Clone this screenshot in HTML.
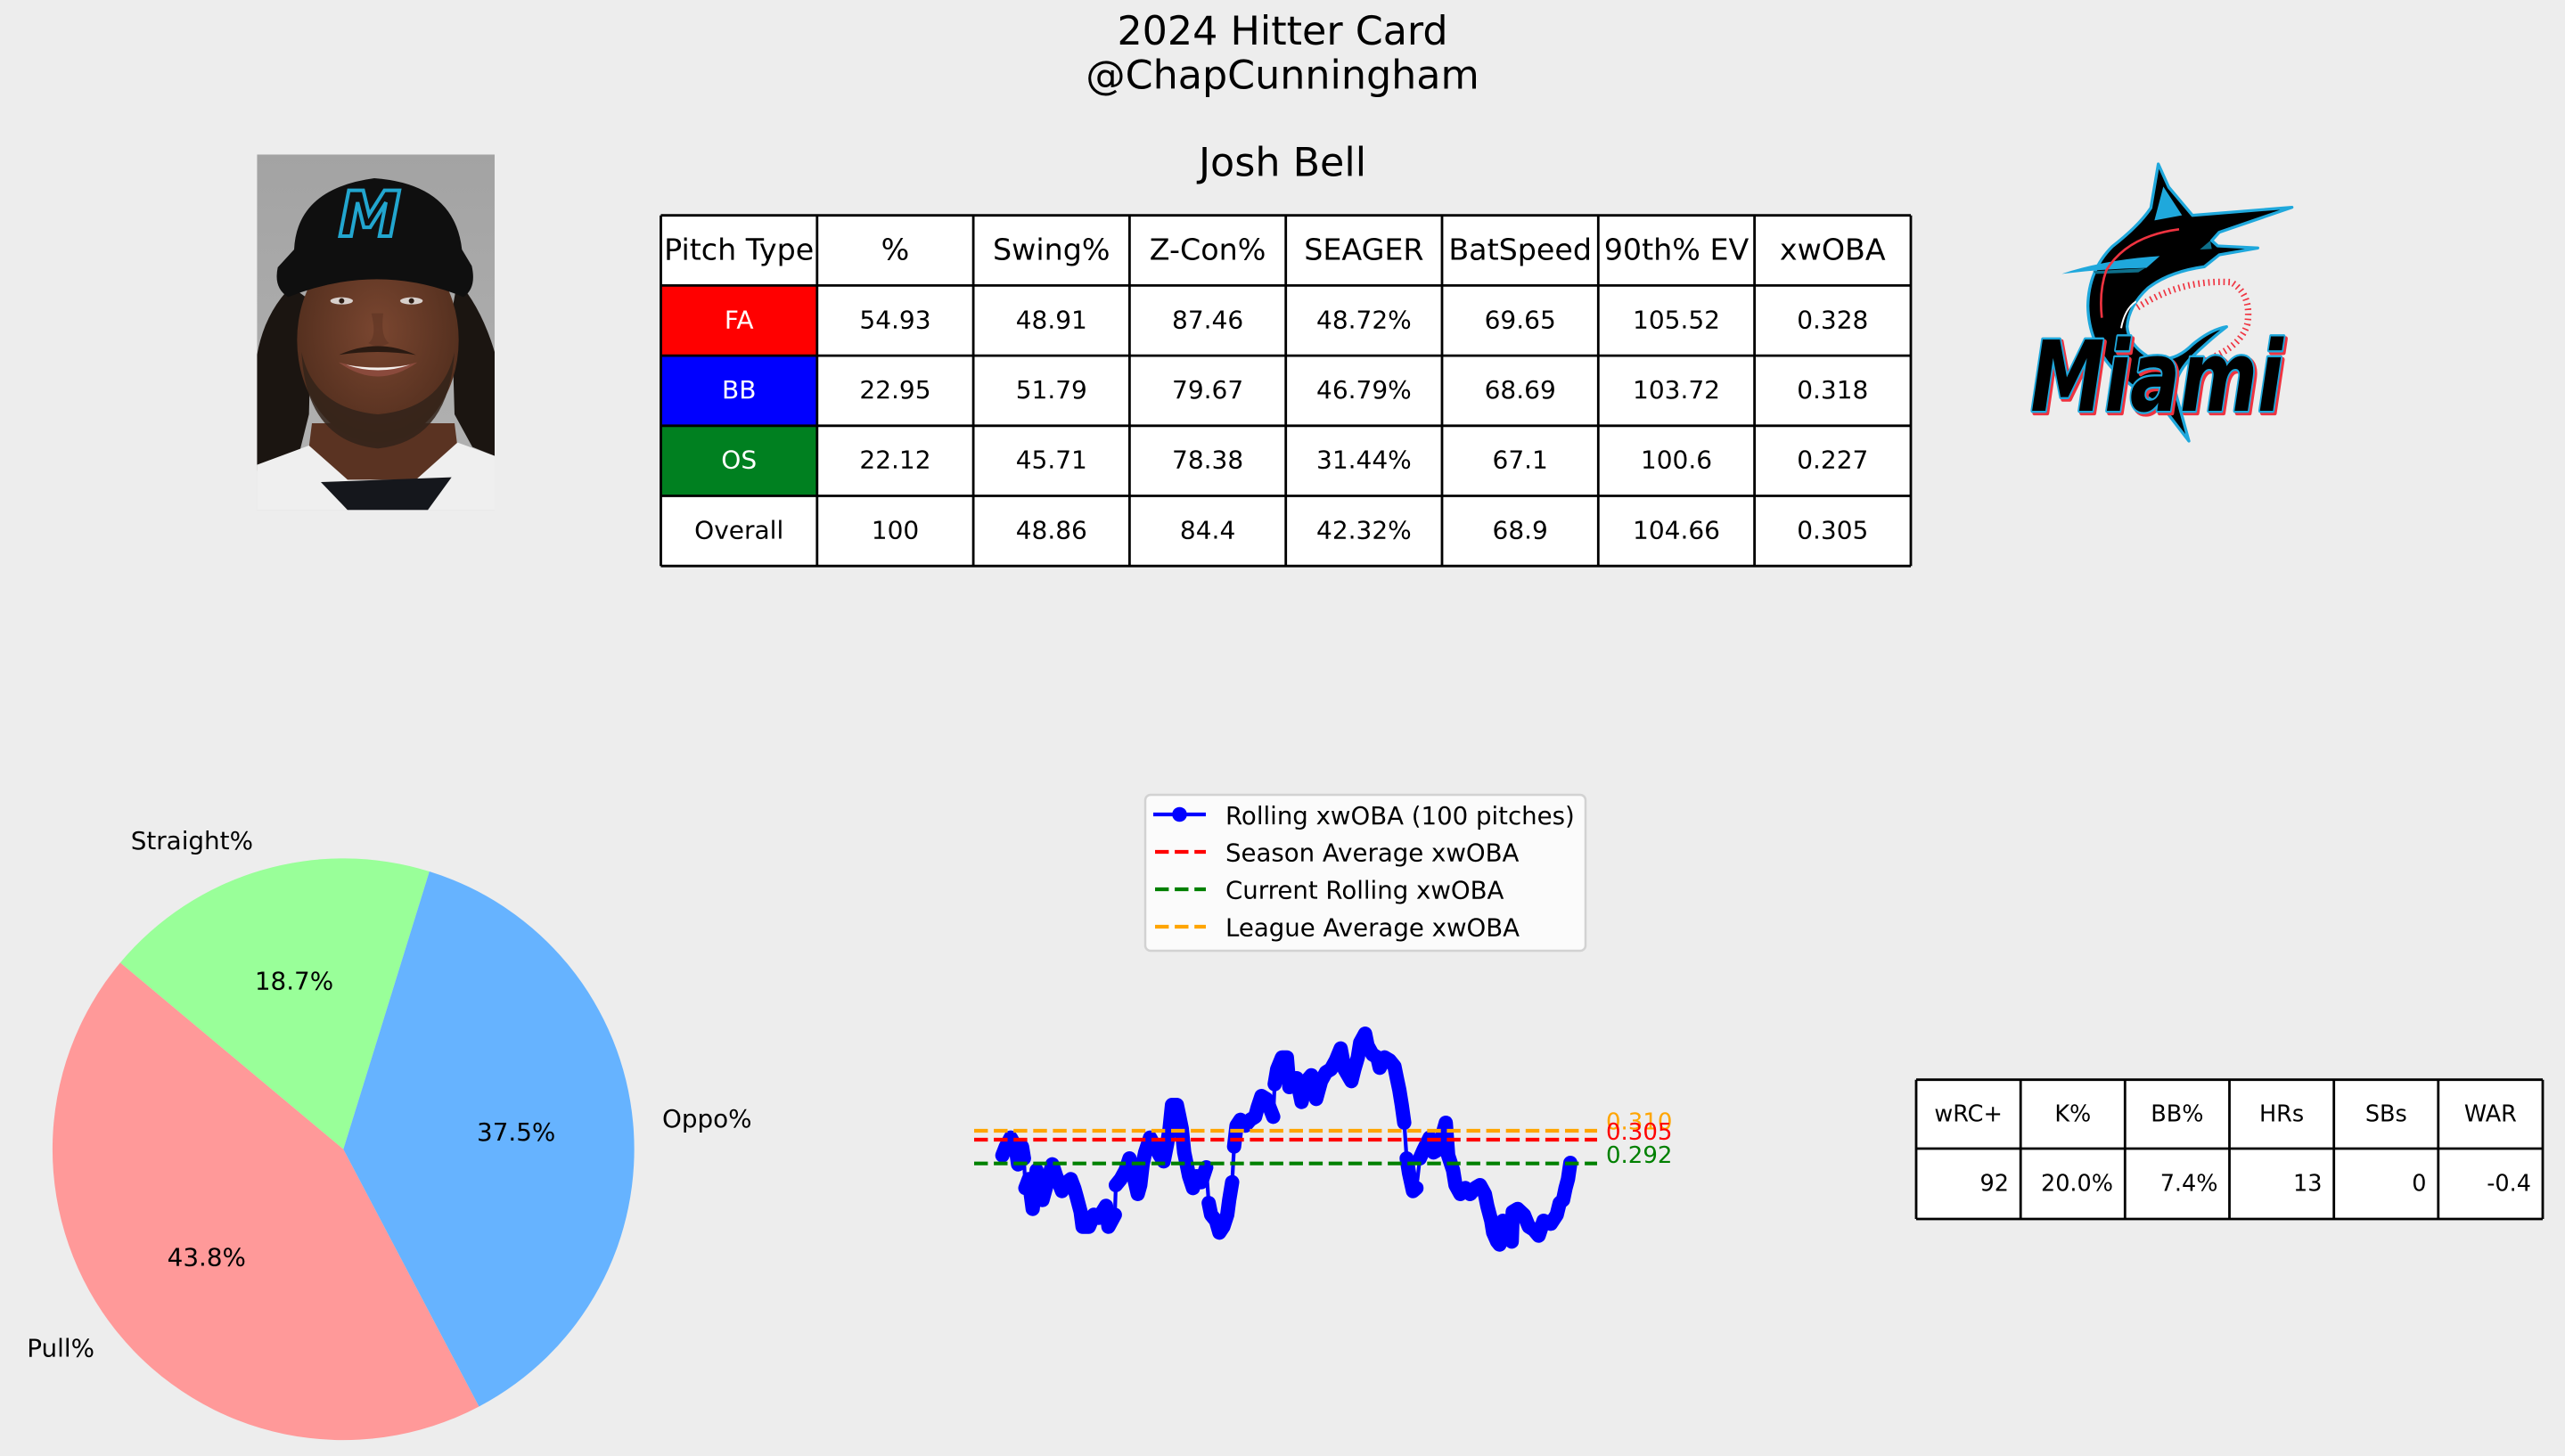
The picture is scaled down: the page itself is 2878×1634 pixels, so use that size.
<!DOCTYPE html>
<html>
<head>
<meta charset="utf-8">
<style>
html,body{margin:0;padding:0;background:#ededed;}
svg{display:block;}
text{font-family:"DejaVu Sans","Liberation Sans",sans-serif;}
</style>
</head>
<body>
<svg width="2878" height="1634" viewBox="0 0 2878 1634" xmlns="http://www.w3.org/2000/svg">
<rect x="0" y="0" width="2878" height="1634" fill="#ededed"/>

<!-- Titles -->
<text x="1439" y="50" font-size="44.4" text-anchor="middle" fill="#000">2024 Hitter Card</text>
<text x="1439" y="99.5" font-size="44.4" text-anchor="middle" fill="#000">@ChapCunningham</text>
<text x="1439" y="197.7" font-size="44.4" text-anchor="middle" fill="#000">Josh Bell</text>

<!-- Player photo -->
<defs>
<clipPath id="photoclip"><rect x="25" y="25" width="800" height="1197"/></clipPath>
<linearGradient id="bg" x1="0" y1="0" x2="0" y2="1">
<stop offset="0" stop-color="#a3a3a3"/><stop offset="1" stop-color="#b3b3b3"/>
</linearGradient>
<radialGradient id="face" cx="0.5" cy="0.45" r="0.6">
<stop offset="0" stop-color="#7a4630"/><stop offset="1" stop-color="#4e2c1c"/>
</radialGradient>
</defs>
<g transform="translate(280,165) scale(0.33333)">
<g clip-path="url(#photoclip)">
<rect x="25" y="25" width="800" height="1197" fill="url(#bg)"/>
<!-- dreads -->
<path d="M25,700 Q50,560 140,470 L210,520 L200,900 L160,1060 L90,1090 L25,1090 Z" fill="#1b1511"/>
<path d="M700,450 Q780,540 825,690 L825,1040 L750,1010 L690,900 L680,560 Z" fill="#1b1511"/>
<!-- neck -->
<path d="M210,930 L690,930 L700,1010 L640,1130 L260,1135 L200,1010 Z" fill="#5a3322"/>
<!-- shirt -->
<path d="M25,1070 L200,1005 L330,1120 L560,1120 L700,995 L825,1040 L825,1222 L25,1222 Z" fill="#efefef"/>
<path d="M240,1128 L680,1112 L600,1222 L330,1222 Z" fill="#15171c"/>
<!-- face -->
<ellipse cx="432" cy="650" rx="272" ry="345" fill="url(#face)"/>
<!-- beard -->
<path d="M175,690 Q190,990 432,1015 Q670,990 690,690 Q650,880 432,900 Q215,880 175,690 Z" fill="#33231a" opacity="0.85"/>
<path d="M300,700 Q432,640 560,700 Q432,680 300,700 Z" fill="#2a1a12"/>
<!-- mouth -->
<path d="M300,725 Q432,820 565,725 Q432,760 300,725 Z" fill="#8a4a3c"/>
<path d="M325,733 Q432,770 540,733 Q432,752 325,733 Z" fill="#f4f0ec"/>
<!-- eyes -->
<ellipse cx="310" cy="518" rx="38" ry="12" fill="#d8d0cc"/>
<ellipse cx="545" cy="518" rx="38" ry="12" fill="#d8d0cc"/>
<circle cx="310" cy="518" r="9" fill="#2a1a12"/>
<circle cx="545" cy="518" r="9" fill="#2a1a12"/>
<path d="M410,560 Q430,640 400,660 Q432,680 470,660 Q440,640 450,560 Z" fill="#5e3423" opacity="0.6"/>
<!-- cap -->
<path d="M150,345 Q160,140 420,105 Q690,125 715,345 L748,400 Q765,475 720,505 Q432,385 130,505 Q80,475 95,405 Z" fill="#0f0f0f"/>
<text x="300" y="300" font-size="210" font-weight="bold" font-style="italic" fill="none" stroke="#22a6cf" stroke-width="12" font-family="Liberation Serif, serif">M</text>
</g>
</g>

<!-- Main table -->
<rect x="741.5" y="241.7" width="1402.5" height="393.5" fill="#ffffff"/>
<rect x="741.5" y="320.4" width="175.3" height="78.7" fill="#ff0000"/>
<rect x="741.5" y="399.1" width="175.3" height="78.7" fill="#0000ff"/>
<rect x="741.5" y="477.8" width="175.3" height="78.7" fill="#008020"/>
<g stroke="#000" stroke-width="2.8">
<line x1="741.5" y1="241.7" x2="2144" y2="241.7"/>
<line x1="741.5" y1="320.4" x2="2144" y2="320.4"/>
<line x1="741.5" y1="399.1" x2="2144" y2="399.1"/>
<line x1="741.5" y1="477.8" x2="2144" y2="477.8"/>
<line x1="741.5" y1="556.5" x2="2144" y2="556.5"/>
<line x1="741.5" y1="635.2" x2="2144" y2="635.2"/>
<line x1="741.5" y1="241.7" x2="741.5" y2="635.2"/>
<line x1="916.8" y1="241.7" x2="916.8" y2="635.2"/>
<line x1="1092.1" y1="241.7" x2="1092.1" y2="635.2"/>
<line x1="1267.4" y1="241.7" x2="1267.4" y2="635.2"/>
<line x1="1442.7" y1="241.7" x2="1442.7" y2="635.2"/>
<line x1="1618" y1="241.7" x2="1618" y2="635.2"/>
<line x1="1793.3" y1="241.7" x2="1793.3" y2="635.2"/>
<line x1="1968.6" y1="241.7" x2="1968.6" y2="635.2"/>
<line x1="2144" y1="241.7" x2="2144" y2="635.2"/>
</g>
<g font-size="33.3" text-anchor="middle" fill="#000">
<text x="829.2" y="291.7">Pitch Type</text>
<text x="1004.5" y="291.7">%</text>
<text x="1179.8" y="291.7">Swing%</text>
<text x="1355.1" y="291.7">Z-Con%</text>
<text x="1530.4" y="291.7">SEAGER</text>
<text x="1705.7" y="291.7">BatSpeed</text>
<text x="1881" y="291.7">90th% EV</text>
<text x="2056.3" y="291.7">xwOBA</text>
</g>
<g font-size="28" text-anchor="middle" fill="#000">
<text x="829.2" y="368.3" fill="#fff">FA</text>
<text x="1004.5" y="368.3">54.93</text>
<text x="1179.8" y="368.3">48.91</text>
<text x="1355.1" y="368.3">87.46</text>
<text x="1530.4" y="368.3">48.72%</text>
<text x="1705.7" y="368.3">69.65</text>
<text x="1881" y="368.3">105.52</text>
<text x="2056.3" y="368.3">0.328</text>

<text x="829.2" y="447" fill="#fff">BB</text>
<text x="1004.5" y="447">22.95</text>
<text x="1179.8" y="447">51.79</text>
<text x="1355.1" y="447">79.67</text>
<text x="1530.4" y="447">46.79%</text>
<text x="1705.7" y="447">68.69</text>
<text x="1881" y="447">103.72</text>
<text x="2056.3" y="447">0.318</text>

<text x="829.2" y="525.7" fill="#fff">OS</text>
<text x="1004.5" y="525.7">22.12</text>
<text x="1179.8" y="525.7">45.71</text>
<text x="1355.1" y="525.7">78.38</text>
<text x="1530.4" y="525.7">31.44%</text>
<text x="1705.7" y="525.7">67.1</text>
<text x="1881" y="525.7">100.6</text>
<text x="2056.3" y="525.7">0.227</text>

<text x="829.2" y="604.4">Overall</text>
<text x="1004.5" y="604.4">100</text>
<text x="1179.8" y="604.4">48.86</text>
<text x="1355.1" y="604.4">84.4</text>
<text x="1530.4" y="604.4">42.32%</text>
<text x="1705.7" y="604.4">68.9</text>
<text x="1881" y="604.4">104.66</text>
<text x="2056.3" y="604.4">0.305</text>
</g>

<!-- Marlins logo -->
<g transform="translate(2260,170) scale(0.33333)">
<path d="M485,42 L520,120 L600,215 L935,188 L690,272 L665,300 L685,318 L820,325 L690,348 L640,388 Q520,405 450,460 Q385,520 380,590 Q385,650 450,690 Q530,720 600,650 Q660,600 715,590 Q650,640 590,700 Q545,750 540,800 L588,975 Q530,900 500,860 Q400,800 330,730 Q250,640 248,520 Q250,400 330,320 Q420,250 460,190 Z" fill="#000" stroke="#1fa8dc" stroke-width="10" stroke-linejoin="round"/>
<path d="M502,118 L565,215 L472,232 Z" fill="#1fa8dc"/>
<path d="M160,412 Q300,365 490,352 L445,392 Q300,395 160,412 Z" fill="#1fa8dc"/>
<path d="M265,403 L440,393 L418,407 L275,412 Z" fill="#0e6f8a"/>
<path d="M660,300 L625,330 L665,328 Z" fill="#0e6f8a"/>
<path d="M555,262 Q380,285 310,400 Q285,470 295,560" fill="none" stroke="#ef3340" stroke-width="8"/>
<path d="M360,595 Q372,530 410,505" fill="none" stroke="#fff" stroke-width="6"/>
<path d="M415,525 Q560,430 730,440 Q800,480 785,580 Q765,650 670,692" fill="none" stroke="#ef3340" stroke-width="22" stroke-dasharray="5 12"/>
<text x="62" y="880" font-size="330" font-weight="bold" font-style="italic" font-family="Liberation Serif, serif" textLength="850" lengthAdjust="spacingAndGlyphs" fill="#ef3340" stroke="#ef3340" stroke-width="16" stroke-linejoin="round">Miami</text>
<text x="55" y="873" font-size="330" font-weight="bold" font-style="italic" font-family="Liberation Serif, serif" textLength="850" lengthAdjust="spacingAndGlyphs" fill="#000" stroke="#1fa8dc" stroke-width="14" stroke-linejoin="round" paint-order="stroke">Miami</text>
</g>

<!-- Pie chart -->
<path d="M385.3,1289.8 L481.8,978.0 A326.4,326.4 0 0 0 134.9,1080.4 Z" fill="#99ff99"/>
<path d="M385.3,1289.8 L134.9,1080.4 A326.4,326.4 0 0 0 537.5,1578.5 Z" fill="#ff9999"/>
<path d="M385.3,1289.8 L537.5,1578.5 A326.4,326.4 0 0 0 481.8,978.0 Z" fill="#66b3ff"/>
<g font-size="27.8" fill="#000">
<text x="284" y="952.9" text-anchor="end">Straight%</text>
<text x="743" y="1265.2" text-anchor="start">Oppo%</text>
<text x="106" y="1522.6" text-anchor="end">Pull%</text>
<text x="330" y="1110.7" text-anchor="middle">18.7%</text>
<text x="579.2" y="1280.1" text-anchor="middle">37.5%</text>
<text x="231.8" y="1420.6" text-anchor="middle">43.8%</text>
</g>

<!-- Legend -->
<rect x="1285" y="892" width="494" height="175" rx="6" ry="6" fill="#fbfbfb" stroke="#d2d2d2" stroke-width="2.5"/>
<line x1="1294" y1="914" x2="1353" y2="914" stroke="#0000ff" stroke-width="4.2"/>
<circle cx="1323.5" cy="914" r="8.3" fill="#0000ff"/>
<line x1="1296" y1="956" x2="1353" y2="956" stroke="#ff0000" stroke-width="4.2" stroke-dasharray="15.4 6.7"/>
<line x1="1296" y1="998" x2="1353" y2="998" stroke="#008000" stroke-width="4.2" stroke-dasharray="15.4 6.7"/>
<line x1="1296" y1="1040" x2="1353" y2="1040" stroke="#ffa500" stroke-width="4.2" stroke-dasharray="15.4 6.7"/>
<g font-size="27.6" fill="#000">
<text x="1375" y="925">Rolling xwOBA (100 pitches)</text>
<text x="1375" y="966.7">Season Average xwOBA</text>
<text x="1375" y="1008.3">Current Rolling xwOBA</text>
<text x="1375" y="1050.3">League Average xwOBA</text>
</g>

<!-- Rolling series -->
<g fill="none" stroke="#0000ff" stroke-linejoin="round" stroke-linecap="round">
<polyline stroke-width="4.2" points="1124.7,1296.7 1128.6,1286.7 1134.0,1276.7 1139.5,1286.7 1142.3,1306.7 1146.7,1286.7 1148.9,1300 1150.5,1333.3 1154.3,1323.3 1158.7,1356.7 1163.1,1313.3 1167.0,1333.3 1169.7,1346.7 1175.2,1326.7 1180.7,1306.7 1185.1,1320 1191.6,1336.7 1197.1,1326.7 1201.5,1323.3 1205.3,1333.3 1208.1,1343.3 1212.5,1360 1214.7,1376.7 1221.8,1376.7 1227.3,1363.3 1232.8,1366.7 1241.0,1353.3 1243.7,1376.7 1250.9,1363.3 1252.0,1330 1257.4,1323.3 1262.9,1313.3 1267.3,1300 1271.2,1316.7 1276.6,1340 1279.4,1330 1282.1,1306.7 1284.9,1293.3 1290.4,1276.7 1295.8,1286.7 1301.3,1296.7 1305.7,1303.3 1309.6,1283.3 1312.3,1266.7 1315.0,1240 1320.5,1240 1323.3,1253.3 1326.0,1266.7 1328.7,1293.3 1331.5,1306.7 1334.2,1320 1338.6,1333.3 1342.5,1320 1347.9,1326.7 1353.4,1310 1356.2,1350 1358.9,1363.3 1364.4,1370 1368.2,1383.3 1372.6,1376.7 1377.0,1363.3 1379.2,1346.7 1382.5,1326.7 1384.7,1286.7 1387.4,1263.3 1391.8,1256.7 1397.3,1263.3 1402.8,1256.7 1408.3,1253.3 1411.0,1243.3 1415.4,1230 1420.9,1233.3 1424.7,1243.3 1428.6,1253.3 1430.2,1216.7 1433.0,1200 1438.4,1186.7 1443.9,1186.7 1446.7,1220 1452.2,1213.3 1454.9,1210 1460.4,1236.7 1465.9,1213.3 1471.4,1206.7 1476.8,1233.3 1482.3,1213.3 1487.8,1203.3 1493.3,1200 1498.8,1190 1504.3,1176.7 1508.6,1200 1512.5,1206.7 1516.3,1213.3 1519.6,1200 1523.5,1186.7 1526.2,1170 1531.7,1160 1534.4,1173.3 1539.9,1183.3 1545.4,1186.7 1548.1,1198.3 1553.6,1186.7 1559.1,1190 1564.6,1196.7 1567.3,1210 1570.1,1223.3 1572.8,1240 1575.6,1260 1578.3,1300 1581.0,1316.7 1585.4,1336.7 1589.3,1333.3 1593.1,1300 1597.5,1290 1604.1,1276.7 1608.5,1293.3 1614.0,1290 1619.4,1270 1622.2,1260 1624.9,1296.7 1630.4,1313.3 1633.1,1330 1638.6,1340 1644.1,1333.3 1649.6,1340 1655.1,1333.3 1660.6,1330 1666.1,1340 1668.8,1353.3 1673.2,1370 1675.4,1383.3 1679.8,1393.3 1682.5,1396.7 1686.3,1370 1690.7,1380 1696.2,1393.3 1697.3,1360 1702.8,1356.7 1709.9,1363.3 1715.4,1376.7 1720.9,1380 1726.4,1386.7 1731.9,1370 1740.1,1373.3 1746.7,1363.3 1750.0,1350 1753.8,1346.7 1756.6,1333.3 1759.3,1323.3 1762.0,1305"/>
<g stroke-width="16">
<polyline points="1124.7,1296.7 1128.6,1286.7 1134.0,1276.7 1139.5,1286.7 1142.3,1306.7 1146.7,1286.7 1148.9,1300"/>
<polyline points="1150.5,1333.3 1154.3,1323.3 1158.7,1356.7 1163.1,1313.3 1167.0,1333.3 1169.7,1346.7 1175.2,1326.7 1180.7,1306.7 1185.1,1320 1191.6,1336.7 1197.1,1326.7 1201.5,1323.3 1205.3,1333.3 1208.1,1343.3 1212.5,1360 1214.7,1376.7 1221.8,1376.7 1227.3,1363.3 1232.8,1366.7 1241.0,1353.3 1243.7,1376.7 1250.9,1363.3"/>
<polyline points="1252.0,1330 1257.4,1323.3 1262.9,1313.3 1267.3,1300 1271.2,1316.7 1276.6,1340 1279.4,1330 1282.1,1306.7 1284.9,1293.3 1290.4,1276.7 1295.8,1286.7 1301.3,1296.7 1305.7,1303.3 1309.6,1283.3 1312.3,1266.7 1315.0,1240 1320.5,1240 1323.3,1253.3 1326.0,1266.7 1328.7,1293.3 1331.5,1306.7 1334.2,1320 1338.6,1333.3 1342.5,1320 1347.9,1326.7 1353.4,1310"/>
<polyline points="1356.2,1350 1358.9,1363.3 1364.4,1370 1368.2,1383.3 1372.6,1376.7 1377.0,1363.3 1379.2,1346.7 1382.5,1326.7"/>
<polyline points="1384.7,1286.7 1387.4,1263.3 1391.8,1256.7 1397.3,1263.3 1402.8,1256.7 1408.3,1253.3 1411.0,1243.3 1415.4,1230 1420.9,1233.3 1424.7,1243.3 1428.6,1253.3"/>
<polyline points="1430.2,1216.7 1433.0,1200 1438.4,1186.7 1443.9,1186.7 1446.7,1220 1452.2,1213.3 1454.9,1210 1460.4,1236.7 1465.9,1213.3 1471.4,1206.7 1476.8,1233.3 1482.3,1213.3 1487.8,1203.3 1493.3,1200 1498.8,1190 1504.3,1176.7 1508.6,1200 1512.5,1206.7 1516.3,1213.3 1519.6,1200 1523.5,1186.7 1526.2,1170 1531.7,1160 1534.4,1173.3 1539.9,1183.3 1545.4,1186.7 1548.1,1198.3 1553.6,1186.7 1559.1,1190 1564.6,1196.7 1567.3,1210 1570.1,1223.3 1572.8,1240 1575.6,1260"/>
<polyline points="1578.3,1300 1581.0,1316.7 1585.4,1336.7 1589.3,1333.3"/>
<polyline points="1593.1,1300 1597.5,1290 1604.1,1276.7 1608.5,1293.3 1614.0,1290 1619.4,1270 1622.2,1260 1624.9,1296.7 1630.4,1313.3 1633.1,1330 1638.6,1340 1644.1,1333.3 1649.6,1340 1655.1,1333.3 1660.6,1330 1666.1,1340 1668.8,1353.3 1673.2,1370 1675.4,1383.3 1679.8,1393.3 1682.5,1396.7 1686.3,1370 1690.7,1380 1696.2,1393.3 1697.3,1360 1702.8,1356.7 1709.9,1363.3 1715.4,1376.7 1720.9,1380 1726.4,1386.7 1731.9,1370 1740.1,1373.3 1746.7,1363.3 1750.0,1350 1753.8,1346.7 1756.6,1333.3 1759.3,1323.3 1762.0,1305"/>
</g>
</g>

<!-- Reference lines -->
<line x1="1093" y1="1279" x2="1792" y2="1279" stroke="#ff0000" stroke-width="4.2" stroke-dasharray="15.4 6.7"/>
<line x1="1093" y1="1305.7" x2="1792" y2="1305.7" stroke="#008000" stroke-width="4.2" stroke-dasharray="15.4 6.7"/>
<line x1="1093" y1="1269" x2="1792" y2="1269" stroke="#ffa500" stroke-width="4.2" stroke-dasharray="15.4 6.7"/>
<g font-size="26">
<text x="1802" y="1267.5" fill="#ffa500">0.310</text>
<text x="1802" y="1279" fill="#ff0000">0.305</text>
<text x="1802" y="1305" fill="#008000">0.292</text>
</g>

<!-- Right stats table -->
<rect x="2150" y="1211.7" width="703" height="156.3" fill="#ffffff"/>
<g stroke="#000" stroke-width="2.8">
<line x1="2150" y1="1211.7" x2="2853" y2="1211.7"/>
<line x1="2150" y1="1289" x2="2853" y2="1289"/>
<line x1="2150" y1="1368" x2="2853" y2="1368"/>
<line x1="2150" y1="1211.7" x2="2150" y2="1368"/>
<line x1="2267.2" y1="1211.7" x2="2267.2" y2="1368"/>
<line x1="2384.3" y1="1211.7" x2="2384.3" y2="1368"/>
<line x1="2501.5" y1="1211.7" x2="2501.5" y2="1368"/>
<line x1="2618.7" y1="1211.7" x2="2618.7" y2="1368"/>
<line x1="2735.8" y1="1211.7" x2="2735.8" y2="1368"/>
<line x1="2853" y1="1211.7" x2="2853" y2="1368"/>
</g>
<g font-size="25.5" fill="#000" text-anchor="middle">
<text x="2208.6" y="1258.3">wRC+</text>
<text x="2325.8" y="1258.3">K%</text>
<text x="2442.9" y="1258.3">BB%</text>
<text x="2560.1" y="1258.3">HRs</text>
<text x="2677.3" y="1258.3">SBs</text>
<text x="2794.4" y="1258.3">WAR</text>
</g>
<g font-size="25.5" fill="#000" text-anchor="end">
<text x="2254" y="1336.7">92</text>
<text x="2371" y="1336.7">20.0%</text>
<text x="2488.5" y="1336.7">7.4%</text>
<text x="2605.5" y="1336.7">13</text>
<text x="2722.5" y="1336.7">0</text>
<text x="2840" y="1336.7">-0.4</text>
</g>
</svg>
</body>
</html>
